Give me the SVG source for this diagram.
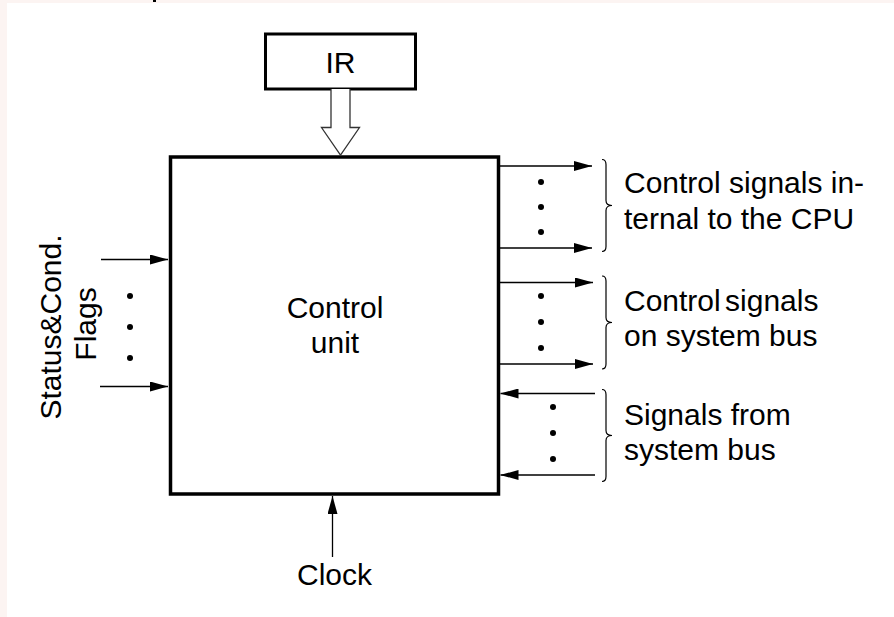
<svg xmlns="http://www.w3.org/2000/svg" width="894" height="617" viewBox="0 0 894 617">
<style>
text{font-family:"Liberation Sans",Arial,sans-serif;font-size:30px;fill:#000}
.box{fill:#fff;stroke:#000}
.ln{stroke:#000;stroke-width:1.3;fill:none}
.br{stroke:#000;stroke-width:1.2;fill:none}
.dot{fill:#000}
</style>
<defs>
<marker id="ah" viewBox="0 0 18 10" refX="18" refY="5" markerWidth="18" markerHeight="10" markerUnits="userSpaceOnUse" orient="auto">
<path d="M0,0 L18,5 L0,10 Z" fill="#000"/>
</marker>
</defs>
<rect x="0" y="0" width="894" height="617" fill="#fcf4f2"/>
<rect x="7" y="3" width="887" height="614" fill="#fff"/>
<rect x="153" y="0" width="3" height="2" fill="#000"/>

<g id="ir">
<rect class="box" x="265.5" y="34" width="150" height="55" stroke-width="3"/>
<text x="340.5" y="73" text-anchor="middle">IR</text>
</g>

<g id="control-unit">
<rect class="box" x="170.5" y="157" width="328" height="337" stroke-width="3.5"/>
<text x="335" y="318" text-anchor="middle">Control</text>
<text x="335" y="353" text-anchor="middle">unit</text>
</g>

<g id="status-flags">
<text transform="translate(61,327) rotate(-90)" text-anchor="middle">Status&amp;Cond.</text>
<text transform="translate(96,324) rotate(-90)" text-anchor="middle">Flags</text>
<circle class="dot" cx="130" cy="296" r="3"/>
<circle class="dot" cx="130" cy="327" r="3"/>
<circle class="dot" cx="130" cy="358" r="3"/>
</g>

<g id="clock">
<text x="334.5" y="585" text-anchor="middle">Clock</text>
</g>

<g id="group-internal">
<circle class="dot" cx="541" cy="182" r="3"/>
<circle class="dot" cx="541" cy="207" r="3"/>
<circle class="dot" cx="541" cy="232" r="3"/>
<path class="br" d="M602,159.5 Q606,159.5 606,164.5 L606,200.5 Q606,205.5 612,205.5 Q606,205.5 606,210.5 L606,246.5 Q606,251.5 602,251.5"/>
<text x="624" y="193">Control signals in-</text>
<text x="624" y="228.5">ternal to the CPU</text>
</g>

<g id="group-sysbus-out">
<circle class="dot" cx="541" cy="296" r="3"/>
<circle class="dot" cx="541" cy="322" r="3"/>
<circle class="dot" cx="541" cy="348" r="3"/>
<path class="br" d="M602,276 Q606,276 606,281 L606,317.5 Q606,322.5 612,322.5 Q606,322.5 606,327.5 L606,364 Q606,369 602,369"/>
<text x="624" y="311" word-spacing="-4">Control signals</text>
<text x="624" y="346">on system bus</text>
</g>

<g id="group-sysbus-in">
<circle class="dot" cx="553" cy="407" r="3"/>
<circle class="dot" cx="553" cy="433" r="3"/>
<circle class="dot" cx="553" cy="459" r="3"/>
<path class="br" d="M602,389.5 Q606,389.5 606,394.5 L606,430.5 Q606,435.5 612,435.5 Q606,435.5 606,440.5 L606,476.5 Q606,481.5 602,481.5"/>
<text x="624" y="425">Signals from</text>
<text x="624" y="460">system bus</text>
</g>

<g id="connectors">
<path d="M331,89 L331,127.5 L321.5,127.5 L340.5,155 L359.5,127.5 L350,127.5 L350,89" fill="#fff" stroke="#333" stroke-width="1.3"/>
<line class="ln" x1="101" y1="259.5" x2="168" y2="259.5" marker-end="url(#ah)"/>
<line class="ln" x1="100" y1="386.5" x2="168" y2="386.5" marker-end="url(#ah)"/>
<line class="ln" x1="332.5" y1="557" x2="332.5" y2="496" marker-end="url(#ah)"/>
<line class="ln" x1="500" y1="166" x2="592" y2="166" marker-end="url(#ah)"/>
<line class="ln" x1="500" y1="248" x2="592" y2="248" marker-end="url(#ah)"/>
<line class="ln" x1="500" y1="282.5" x2="593" y2="282.5" marker-end="url(#ah)"/>
<line class="ln" x1="500" y1="364" x2="593" y2="364" marker-end="url(#ah)"/>
<line class="ln" x1="595" y1="393.5" x2="500.5" y2="393.5" marker-end="url(#ah)"/>
<line class="ln" x1="595" y1="475" x2="500.5" y2="475" marker-end="url(#ah)"/>
</g>
</svg>
